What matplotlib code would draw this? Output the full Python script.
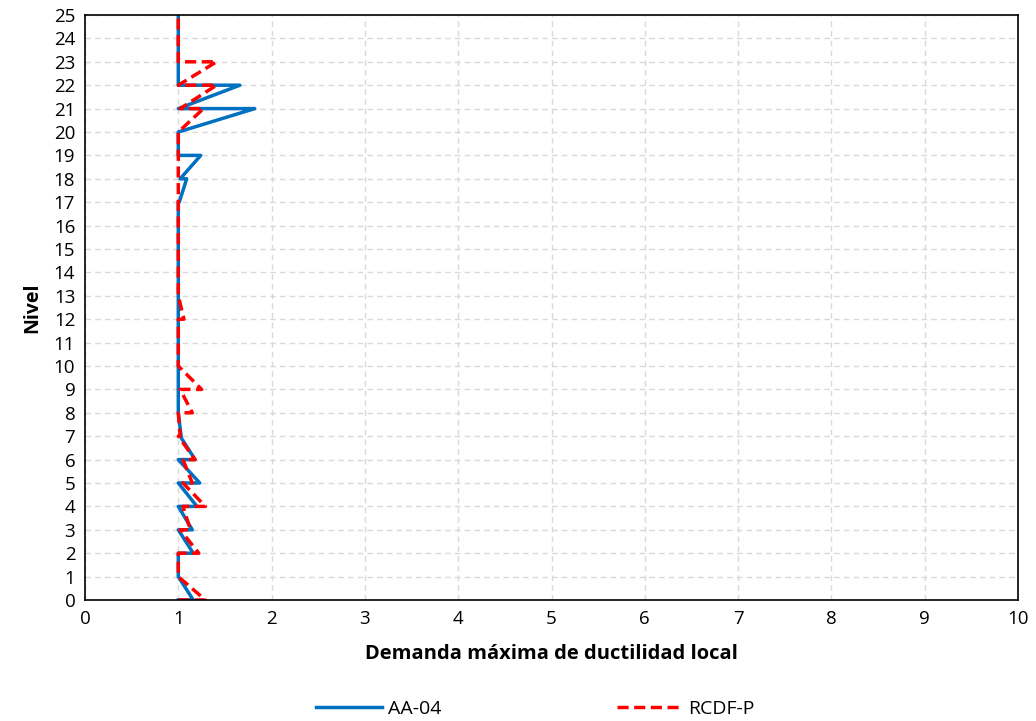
import matplotlib
matplotlib.use("Agg")
import matplotlib.pyplot as plt

# story-by-story ductility demand: value at bottom end (level n-1) and top end (level n)
stories = list(range(1, 26))
aa04_bottom = [1.16, 1.00, 1.16, 1.15, 1.20, 1.23, 1.18, 1.03, 1.00, 1.00,
               1.00, 1.00, 1.00, 1.00, 1.00, 1.00, 1.00, 1.01, 1.02, 1.00,
               1.00, 1.00, 1.00, 1.00, 1.00]
aa04_top = [1.00, 1.00, 1.00, 1.00, 1.00, 1.00, 1.02, 1.00, 1.00, 1.00,
            1.00, 1.00, 1.00, 1.00, 1.00, 1.00, 1.00, 1.09, 1.24, 1.00,
            1.82, 1.66, 1.00, 1.00, 1.00]
rcdf_bottom = [1.29, 1.00, 1.22, 1.13, 1.29, 1.15, 1.18, 1.02, 1.15, 1.25,
               1.00, 1.00, 1.06, 1.00, 1.00, 1.00, 1.00, 1.00, 1.00, 1.00,
               1.00, 1.02, 1.00, 1.00, 1.00]
rcdf_top = [1.00, 1.00, 1.02, 1.05, 1.05, 1.05, 1.00, 1.00, 1.02, 1.00,
            1.00, 1.00, 1.00, 1.00, 1.00, 1.00, 1.00, 1.00, 1.00, 1.00,
            1.27, 1.41, 1.41, 1.00, 1.00]


def profile(bottom, top):
    xs, ys = [1.0], [0]
    for n, b, t in zip(stories, bottom, top):
        xs += [b, t]
        ys += [n - 1, n]
    return xs, ys


plt.rcParams['font.family'] = ['Open Sans', 'DejaVu Sans']

fig = plt.figure(figsize=(10.36, 7.21), dpi=100)
ax = fig.add_axes([85 / 1036, 1 - 600 / 721, 933 / 1036, 585 / 721])

x, y = profile(aa04_bottom, aa04_top)
ax.plot(x, y, color='#0070C0', lw=2.5, label='AA-04')
x, y = profile(rcdf_bottom, rcdf_top)
ax.plot(x, y, color='#FF0000', lw=2.5, ls=(0, (3.2, 1.6)), label='RCDF-P')

ax.set_xlim(0, 10)
ax.set_ylim(0, 25)
ax.set_xticks(range(0, 11))
ax.set_yticks(range(0, 26))
ax.grid(True, color='#D9D9D9', ls=(0, (4, 3)), lw=1)
ax.set_axisbelow(True)
ax.tick_params(length=0, labelsize=13.5, pad=7)
for s in ax.spines.values():
    s.set_linewidth(1.2)

ax.set_xlabel('Demanda máxima de ductilidad local', fontsize=14.5, fontweight='bold', labelpad=12)
ax.set_ylabel('Nivel', fontsize=14, fontweight='bold', labelpad=8)

fig.legend(loc='lower center', bbox_to_anchor=(0.517, -0.02), ncol=2, frameon=False,
           fontsize=14, columnspacing=9, handlelength=3.4, handletextpad=0.3)

plt.savefig('out.png', dpi=100)
